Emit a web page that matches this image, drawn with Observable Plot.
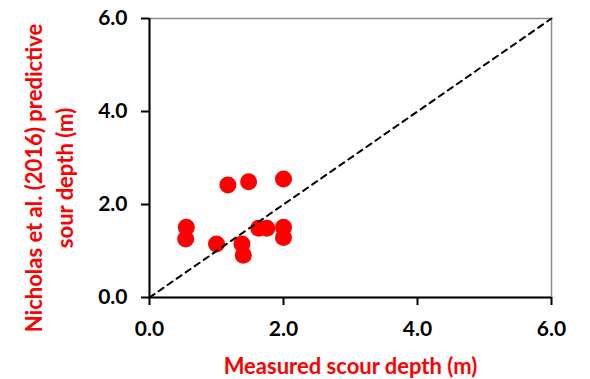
<!DOCTYPE html>
<html>
<head>
<meta charset="utf-8">
<script src="https://cdn.jsdelivr.net/npm/d3@7"></script>
<script src="https://cdn.jsdelivr.net/npm/@observablehq/plot@0.6"></script>
<style>
  html, body { margin: 0; padding: 0; background: #fff; }
  #chart svg { display: block; }
</style>
</head>
<body>
<div id="chart"></div>
<script>
// Data
const measured  = [2.00, 1.48, 1.17, 0.55, 0.54, 1.00, 1.38, 1.40, 1.63, 1.75, 2.00, 2.00];
const predicted = [2.55, 2.49, 2.42, 1.51, 1.26, 1.15, 1.15, 0.91, 1.49, 1.49, 1.51, 1.29];
const tickValues = [0, 2, 4, 6];
const identityLine = [0, 6];
const xLabel = "Measured scour depth (m)";
const yLabel = "Nicholas et al. (2016) predictive\nsour depth (m)";

const points = measured.map((m, i) => ({x: m, y: predicted[i]}));
const lineData = identityLine.map(v => ({x: v, y: v}));

const font = "Lato, 'Open Sans', sans-serif";

const chart = Plot.plot({
  width: 590,
  height: 379,
  marginLeft: 149,
  marginRight: 39,
  marginTop: 18,
  marginBottom: 82,
  style: {fontFamily: font, background: "#fff"},
  x: {domain: [0, 6]},
  y: {domain: [0, 6]},
  marks: [
    Plot.frame({stroke: "#8c8c8c", strokeWidth: 1.5}),
    Plot.dot(points, {x: "x", y: "y", r: 8.5, fill: "#ff0000", stroke: "none"}),
    Plot.line(lineData, {x: "x", y: "y", stroke: "#000", strokeWidth: 2, strokeDasharray: "6,5"}),
    Plot.axisX({ticks: tickValues, tickFormat: d => d.toFixed(1), tickSize: 8, tickPadding: 16,
      strokeWidth: 2, fontSize: 21, fontWeight: "bold", label: null, fill: "#000"}),
    Plot.axisY({ticks: tickValues, tickFormat: d => d.toFixed(1), tickSize: 8, tickPadding: 14,
      strokeWidth: 2, fontSize: 21, fontWeight: "bold", label: null, fill: "#000"}),
    Plot.ruleX([0], {stroke: "#000", strokeWidth: 2}),
    Plot.ruleY([0], {stroke: "#000", strokeWidth: 2}),
    Plot.text([xLabel], {text: d => d, frameAnchor: "bottom", lineAnchor: "middle", textAnchor: "middle",
      dy: 69, fill: "#ff0000", fontWeight: "bold", fontSize: 22}),
    Plot.text([yLabel], {text: d => d, frameAnchor: "left", textAnchor: "middle", lineAnchor: "middle",
      dx: -102, dy: 20, rotate: -90,
      fill: "#ff0000", fontWeight: "bold", fontSize: 22, lineHeight: 1.41})
  ]
});
document.getElementById("chart").appendChild(chart);
</script>
</body>
</html>
